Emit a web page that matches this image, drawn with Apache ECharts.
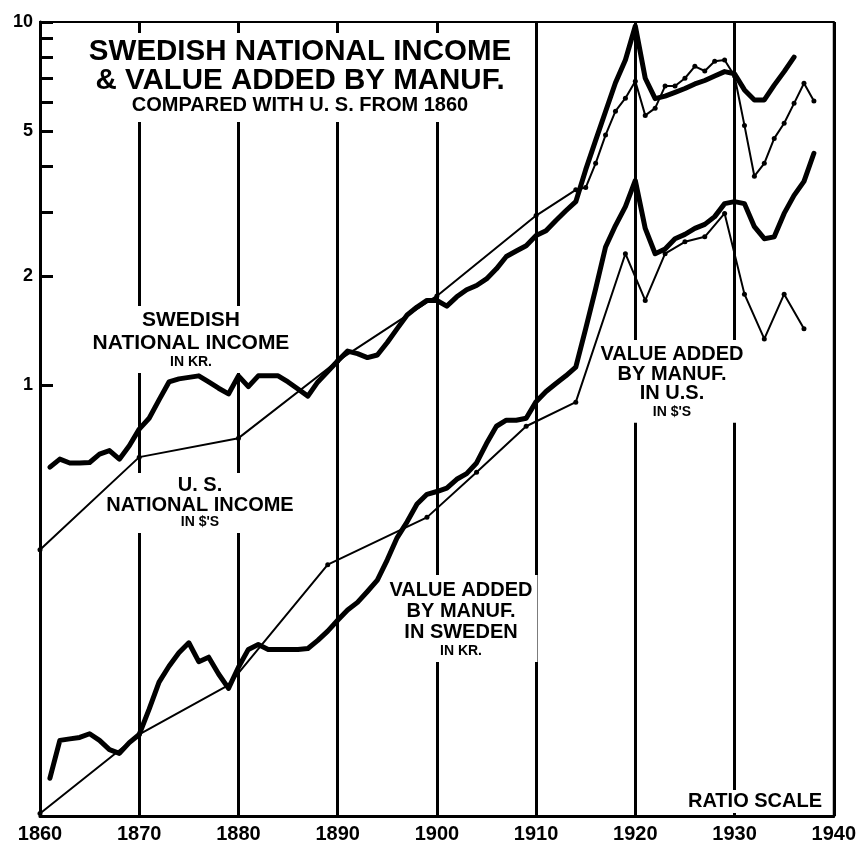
<!DOCTYPE html>
<html>
<head>
<meta charset="utf-8">
<title>Swedish national income and value added by manufacture</title>
<script src="https://cdn.jsdelivr.net/npm/echarts@6.0.0/dist/echarts.min.js"></script>
<style>
  html, body { margin: 0; padding: 0; background: #fff; }
  #chart { width: 859px; height: 844px; }
</style>
</head>
<body>
<div id="chart"></div>
<script>
var FONT = "'Liberation Sans', Arial, sans-serif";

// swedish national income, in kr. (annual, first year 1861)
var sweIncomeStart = 1861;
var sweIncome = [
  0.594, 0.625, 0.61, 0.61, 0.612, 0.645, 0.66, 0.625, 0.68, 0.756,   // 1861-1870
  0.81, 0.91, 1.02, 1.04, 1.05, 1.06, 1.02, 0.98, 0.945, 1.06,       // 1871-1880
  0.99, 1.06, 1.06, 1.06, 1.02, 0.975, 0.932, 1.02, 1.09, 1.165,     // 1881-1890
  1.24, 1.22, 1.19, 1.21, 1.31, 1.43, 1.56, 1.64, 1.71, 1.71,        // 1891-1900
  1.65, 1.75, 1.83, 1.88, 1.96, 2.09, 2.26, 2.34, 2.42, 2.58,        // 1901-1910
  2.66, 2.84, 3.02, 3.2, 3.92, 4.72, 5.67, 6.8, 7.86, 9.75,          // 1911-1920
  7.0, 6.15, 6.25, 6.4, 6.56, 6.75, 6.9, 7.1, 7.3, 7.2,              // 1921-1930
  6.5, 6.1, 6.1, 6.7, 7.3, 8.0                                       // 1931-1936
];

// u.s. national income, in $'s
var usIncomeYears = [1860, 1870, 1880, 1890, 1900, 1910, 1914, 1915, 1916, 1917, 1918, 1919, 1920,
  1921, 1922, 1923, 1924, 1925, 1926, 1927, 1928, 1929, 1930,
  1931, 1932, 1933, 1934, 1935, 1936, 1937, 1938];
var usIncome = [0.352, 0.633, 0.714, 1.165, 1.76, 2.93, 3.45, 3.5, 4.08, 4.88, 5.68, 6.17, 6.87,
  5.53, 5.79, 6.66, 6.66, 7.0, 7.55, 7.33, 7.8, 7.86, 7.1,
  5.19, 3.76, 4.08, 4.78, 5.26, 5.97, 6.78, 6.06];

// value added by manuf. in sweden, in kr. (annual, first year 1861)
var sweManufStart = 1861;
var sweManuf = [
  0.0826, 0.105, 0.106, 0.107, 0.1095, 0.105, 0.099, 0.0967, 0.1035, 0.109, // 1861-1870
  0.128, 0.152, 0.168, 0.183, 0.195, 0.173, 0.178, 0.16, 0.146, 0.167,      // 1871-1880
  0.187, 0.193, 0.187, 0.187, 0.187, 0.187, 0.188, 0.198, 0.21, 0.225,      // 1881-1890
  0.24, 0.252, 0.27, 0.29, 0.33, 0.38, 0.42, 0.47, 0.50, 0.509,             // 1891-1900
  0.52, 0.55, 0.57, 0.61, 0.69, 0.77, 0.80, 0.80, 0.81, 0.9,                // 1901-1910
  0.96, 1.01, 1.06, 1.12, 1.43, 1.84, 2.4, 2.75, 3.1, 3.66,                 // 1911-1920
  2.7, 2.3, 2.37, 2.53, 2.6, 2.7, 2.77, 2.91, 3.16, 3.2,                    // 1921-1930
  3.16, 2.73, 2.53, 2.56, 2.97, 3.33, 3.64, 4.35                            // 1931-1938
];

// value added by manuf. in u.s., in $'s (census years)
var usManufYears = [1860, 1870, 1879, 1889, 1899, 1904, 1909, 1914, 1919,
  1921, 1923, 1925, 1927, 1929, 1931, 1933, 1935, 1937];
var usManuf = [0.066, 0.109, 0.149, 0.32, 0.432, 0.575, 0.77, 0.897, 2.3,
  1.71, 2.3, 2.48, 2.56, 2.97, 1.78, 1.34, 1.78, 1.43];

var yearTicks = [1860, 1870, 1880, 1890, 1900, 1910, 1920, 1930, 1940];
var ratioTicks = [1, 2, 3, 4, 5, 6, 7, 8, 9, 10];
var ratioLabels = [1, 2, 5, 10];

function annual(start, values) {
  return values.map(function (v, i) { return [start + i, v]; });
}
function paired(years, values) {
  return years.map(function (y, i) { return [y, values[i]]; });
}

function thick(name, data) {
  return {
    name: name, type: 'line', data: data, showSymbol: false,
    lineStyle: { color: '#000', width: 5, join: 'round', cap: 'round' },
    z: 3
  };
}
function thin(name, data) {
  return {
    name: name, type: 'line', data: data, symbol: 'circle', symbolSize: 5,
    itemStyle: { color: '#000' },
    lineStyle: { color: '#000', width: 2, join: 'round' },
    z: 4
  };
}

// text blocks sit on white boxes that break the grid lines (but not the curves)
function note(x, y, text, rich, padding) {
  return {
    type: 'text', x: x, y: y, z: 1,
    style: {
      text: text, rich: rich, textAlign: 'center', textVerticalAlign: 'top',
      backgroundColor: '#fff', padding: padding, fill: '#000'
    }
  };
}
function rs(size, lh) {
  return { fontFamily: FONT, fontWeight: 'bold', fontSize: size, lineHeight: lh, color: '#000' };
}

var chart = echarts.init(document.getElementById('chart'));

var option = {
  backgroundColor: '#fff',
  animation: false,
  grid: {
    left: 40, right: 23, top: 22, bottom: 27,
    show: true, borderColor: '#000', borderWidth: 2
  },
  xAxis: {
    type: 'value', min: 1860, max: 1940, interval: 10,
    axisLine: { lineStyle: { color: '#000', width: 3 } },
    axisTick: { show: false },
    axisLabel: {
      color: '#000', fontFamily: FONT, fontWeight: 'bold', fontSize: 20, margin: 8,
      customValues: yearTicks,
      formatter: function (v) { return String(v); }
    },
    splitLine: { show: true, lineStyle: { color: '#000', width: 3 } }
  },
  yAxis: {
    type: 'log', logBase: 10, min: 0.065, max: 10,
    axisLine: { show: true, lineStyle: { color: '#000', width: 3 } },
    axisTick: {
      show: true, inside: true, length: 13, customValues: ratioTicks,
      lineStyle: { color: '#000', width: 3 }
    },
    axisLabel: {
      color: '#000', fontFamily: FONT, fontWeight: 'bold', fontSize: 18, margin: 7,
      customValues: ratioLabels
    },
    splitLine: { show: false }
  },
  series: [
    thick('Swedish national income', annual(sweIncomeStart, sweIncome)),
    thin('U.S. national income', paired(usIncomeYears, usIncome)),
    thick('Value added by manuf. in Sweden', annual(sweManufStart, sweManuf)),
    thin('Value added by manuf. in U.S.', paired(usManufYears, usManuf))
  ],
  graphic: [
    note(300, 33,
      '{t|SWEDISH NATIONAL INCOME}\n{t|& VALUE ADDED BY MANUF.}\n{s|COMPARED WITH U. S. FROM 1860}',
      { t: rs(29.5, 29), s: rs(20, 20) }, [4.5, 20, 6.5, 20]),
    note(191, 306,
      '{a|SWEDISH}\n{a|NATIONAL INCOME}\n{b|IN KR.}',
      { a: rs(21, 23), b: rs(14, 15) }, [3, 4, 3, 4]),
    note(200, 473,
      '{a|U. S.}\n{a|NATIONAL INCOME}\n{b|IN $\'S}',
      { a: rs(20, 20), b: rs(14, 15) }, [2, 4, 3, 4]),
    note(461, 575,
      '{a|VALUE ADDED}\n{a|BY MANUF.}\n{a|IN SWEDEN}\n{b|IN KR.}',
      { a: rs(20, 21), b: rs(14, 17) }, [4.5, 5, 2.5, 5]),
    note(672, 340,
      '{a|VALUE ADDED}\n{a|BY MANUF.}\n{a|IN U.S.}\n{b|IN $\'S}',
      { a: rs(20, 19.5), b: rs(14, 17.5) }, [4.75, 5, 2, 5]),
    note(755, 790,
      '{a|RATIO SCALE}',
      { a: rs(20, 23) }, [0, 3, 0, 3])
  ]
};

chart.setOption(option);
</script>
</body>
</html>
